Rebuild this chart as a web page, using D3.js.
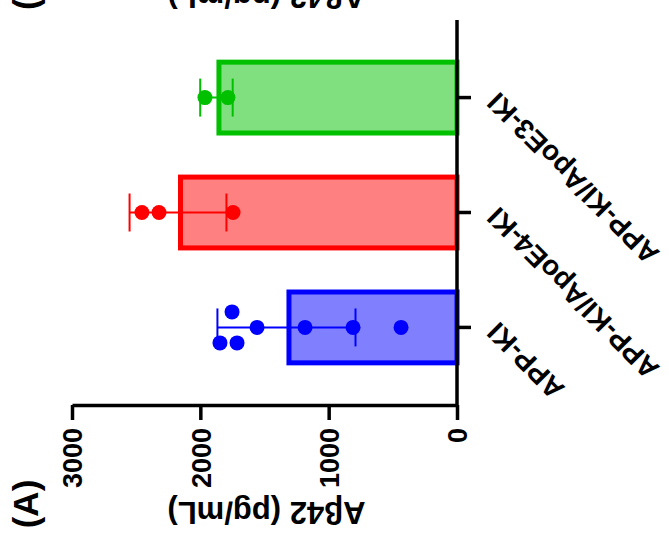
<!DOCTYPE html>
<html>
<head>
<meta charset="utf-8">
<script src="https://cdn.jsdelivr.net/npm/d3@7"></script>
<style>
  body { margin: 0; background: #fff; }
  text { font-family: Arial, "Liberation Sans", sans-serif; font-weight: bold; }
</style>
</head>
<body>
<div id="vis"></div>
<script>
// data
const categories = ["APP-KI", "APP-KI/ApoE4-KI", "APP-KI/ApoE3-KI"]
const appKI = [1753, 1847, 1714, 1558, 1184, 810, 436]
const appKIApoE4 = [2455, 2322, 1745]
const appKIApoE3 = [1964, 1785]
const valueTicks = [0, 1000, 2000, 3000]
const strokeCols = ["#0000ff", "#ff0000", "#00c000"]
const fillCols = ["#8080ff", "#ff8080", "#80e080"]
const axisTitle = "A\u03b242 (pg/mL)"

const groups = categories.map((c, i) => {
  const pts = [appKI, appKIApoE4, appKIApoE3][i]
  return { name: c, points: pts, mean: d3.mean(pts), sd: d3.deviation(pts), stroke: strokeCols[i], fill: fillCols[i] }
})

const W = 669, H = 540
const axisX = 457, axisBottom = 405, axisTop = 20

const svg = d3.select("#vis").append("svg")
  .attr("width", W)
  .attr("height", H)

const x = d3.scaleLinear()
  .domain([0, 3000])
  .range([axisX, 72])

const y = d3.scaleBand()
  .domain(categories.slice().reverse())
  .range([axisTop, axisBottom])
  .paddingInner(0.34)
  .paddingOuter(0.345)

const bw = y.bandwidth()
const barStroke = 5
const r = 7.5

// bars (stroke sits inside the bar outline)
svg.append("g").selectAll("rect")
  .data(groups)
  .join("rect")
  .attr("x", d => x(d.mean) + barStroke / 2)
  .attr("y", d => y(d.name) + barStroke / 2)
  .attr("width", d => axisX - x(d.mean) - barStroke / 2)
  .attr("height", bw - barStroke)
  .attr("fill", d => d.fill)
  .attr("stroke", d => d.stroke)
  .attr("stroke-width", barStroke)

// error bars: mean +/- SD
const eb = svg.append("g").selectAll("g")
  .data(groups)
  .join("g")
  .attr("stroke", d => d.stroke)
  .attr("stroke-width", 2)

eb.append("line")
  .attr("x1", d => x(d.mean - d.sd))
  .attr("x2", d => x(d.mean + d.sd))
  .attr("y1", d => y(d.name) + bw / 2)
  .attr("y2", d => y(d.name) + bw / 2)

eb.selectAll("line.cap")
  .data(d => [d.mean - d.sd, d.mean + d.sd].map(v => ({ v, d })))
  .join("line")
  .attr("class", "cap")
  .attr("x1", e => x(e.v))
  .attr("x2", e => x(e.v))
  .attr("y1", e => y(e.d.name) + bw / 2 - 19)
  .attr("y2", e => y(e.d.name) + bw / 2 + 19)

// simple swarm: points closer than a dot width get split into two rows
function swarm(g) {
  const sorted = g.points.map(v => ({ v, px: x(v), off: 0 })).sort((a, b) => a.v - b.v)
  let clusters = [], cur = []
  sorted.forEach(p => {
    if (cur.length && Math.abs(cur[cur.length - 1].px - p.px) >= 2 * r) {
      clusters.push(cur); cur = []
    }
    cur.push(p)
  })
  if (cur.length) clusters.push(cur)
  clusters.forEach(cl => {
    if (cl.length > 1) cl.forEach((p, i) => { p.off = (i % 2 === 0 ? 1 : -1) * 15.5 })
  })
  return sorted.map(p => ({ ...p, g }))
}

svg.append("g").selectAll("circle")
  .data(groups.flatMap(swarm))
  .join("circle")
  .attr("cx", d => d.px)
  .attr("cy", d => y(d.g.name) + bw / 2 + d.off)
  .attr("r", r)
  .attr("fill", d => d.g.stroke)

// value axis
const xAxis = svg.append("g")
  .attr("transform", `translate(0,${axisBottom})`)
  .call(d3.axisBottom(x).tickValues(valueTicks).tickFormat(d3.format("d")).tickSize(15).tickSizeOuter(0))
xAxis.select(".domain").attr("stroke-width", 3.5)
xAxis.selectAll(".tick line").attr("stroke-width", 3.5)
xAxis.selectAll(".tick text")
  .attr("x", -23)
  .attr("y", 0)
  .attr("dy", "0.36em")
  .attr("transform", "rotate(-90)")
  .attr("text-anchor", "end")
  .style("font-size", "27px")
  .style("font-family", "Arial, 'Liberation Sans', sans-serif")
  .style("font-weight", "bold")
  .attr("fill", "#000")

// category axis
const yAxis = svg.append("g")
  .attr("transform", `translate(${axisX},0)`)
  .call(d3.axisRight(y).tickSize(14).tickSizeOuter(0))
yAxis.select(".domain").attr("stroke-width", 3.5)
  .attr("d", `M0,${axisTop}V${axisBottom + 1.75}`)
yAxis.selectAll(".tick line").attr("stroke-width", 3.5)
yAxis.selectAll(".tick text")
  .attr("x", 0)
  .attr("dy", "0.35em")
  .attr("transform", "translate(35,0) rotate(-135)")
  .attr("text-anchor", "end")
  .style("font-size", "28px")
  .style("font-family", "Arial, 'Liberation Sans', sans-serif")
  .style("font-weight", "bold")
  .attr("fill", "#000")

// axis title, upside down
svg.append("text")
  .attr("transform", `translate(${(x(0) + x(3000)) / 2 + 2},502) rotate(180)`)
  .attr("text-anchor", "middle")
  .style("font-size", "31px")
  .text(axisTitle)

// panel letter
svg.append("text")
  .attr("transform", "translate(38,504) rotate(-90)")
  .attr("text-anchor", "middle")
  .style("font-size", "35px")
  .text("(A)")

// bits of the neighbouring panel cut off at the top
svg.append("text")
  .attr("transform", `translate(${(x(0) + x(3000)) / 2 + 2},-14) rotate(180)`)
  .attr("text-anchor", "middle")
  .style("font-size", "31px")
  .text(axisTitle)

svg.append("text")
  .attr("transform", "translate(38,10) rotate(-90)")
  .attr("text-anchor", "start")
  .style("font-size", "35px")
  .text("(B)")
</script>
</body>
</html>
